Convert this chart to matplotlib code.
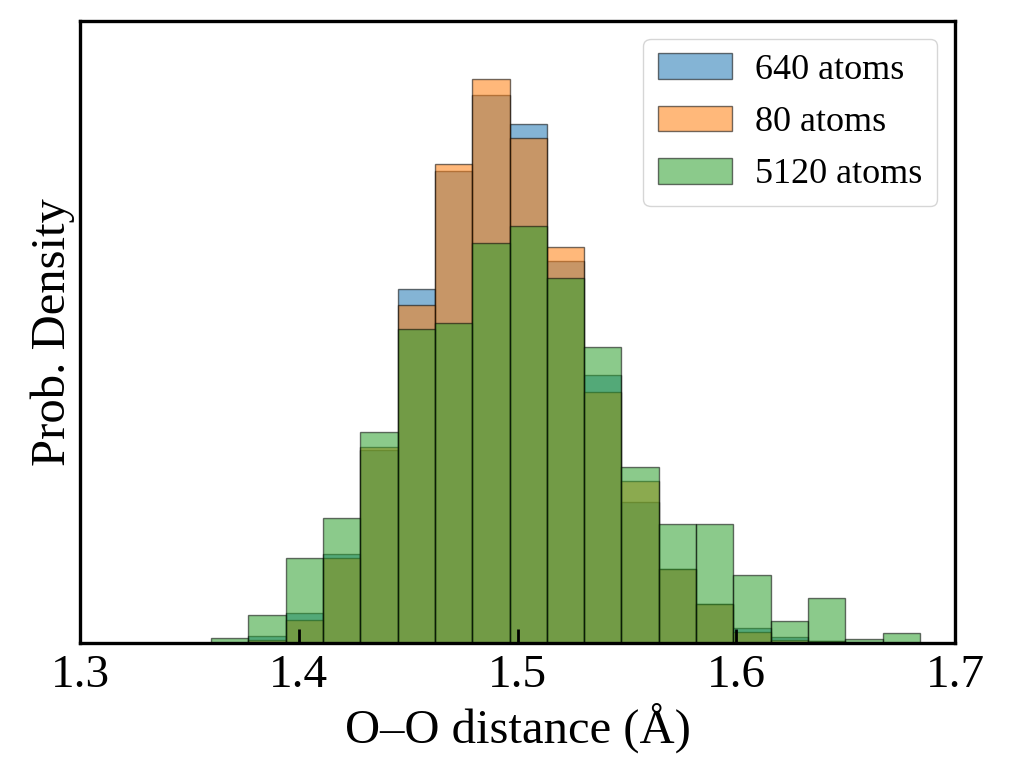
import numpy as np
import matplotlib
matplotlib.use("Agg")
import matplotlib.pyplot as plt

plt.rcParams['font.family'] = ['Liberation Serif', 'DejaVu Serif']

# histogram bins (O-O distance, Angstrom)
bin_start = 1.3598
bin_width = 0.01706
n_bins = 19

# probability densities per bin
dens_640 = [0.0, 0.13, 0.56, 1.67, 3.61, 6.63, 8.84, 10.26, 9.72, 7.15,
            5.02, 2.64, 1.39, 0.73, 0.28, 0.11, 0.04, 0.0, 0.0]
dens_80 = [0.0, 0.06, 0.43, 1.59, 3.67, 6.33, 8.97, 10.56, 9.46, 7.42,
           4.70, 3.03, 1.39, 0.73, 0.21, 0.06, 0.04, 0.0, 0.0]
dens_5120 = [0.09, 0.52, 1.59, 2.34, 3.95, 5.88, 5.99, 7.49, 7.81, 6.84,
             5.54, 3.30, 2.23, 2.23, 1.27, 0.41, 0.84, 0.07, 0.19]

series = [("640 atoms", dens_640, "#1f77b4"),
          ("80 atoms", dens_80, "#ff7f0e"),
          ("5120 atoms", dens_5120, "#2ca02c")]

edges = bin_start + bin_width * np.arange(n_bins + 1)

fig, ax = plt.subplots(figsize=(10.14, 7.74), dpi=100)
fig.subplots_adjust(left=0.079, right=0.942, top=0.973, bottom=0.169)

for label, vals, col in series:
    ax.bar(edges[:-1], vals, width=bin_width, align='edge', color=col,
           alpha=0.55, edgecolor='black', linewidth=1.0, label=label)

ax.set_xlim(1.3, 1.7)
ax.set_ylim(0, 11.65)
ax.set_xticks([1.3, 1.4, 1.5, 1.6, 1.7])
ax.set_xticklabels(['1.3', '1.4', '1.5', '1.6', '1.7'])
ax.set_yticks([])
ax.tick_params(axis='x', direction='in', length=10, width=2, labelsize=34, pad=8)

for s in ax.spines.values():
    s.set_linewidth(2.4)

ax.set_xlabel('O–O distance (Å)', fontsize=35)
ax.set_ylabel('Prob. Density', fontsize=35)

ax.legend(loc='upper right', fontsize=26, handlelength=2.05, handleheight=0.72,
          borderpad=0.4, labelspacing=0.52, handletextpad=0.65)

plt.savefig('out.png', dpi=100)
